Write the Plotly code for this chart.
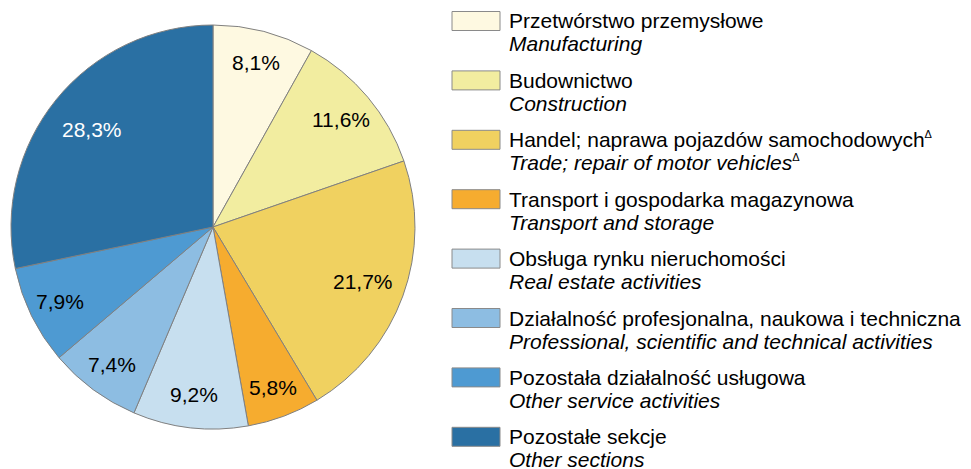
import numpy as np
import plotly.graph_objects as go

SUP = "<sup><span style='font-size:11px;font-style:normal'>Δ</span></sup>"
labels_pl = ["Przetwórstwo przemysłowe", "Budownictwo",
             "Handel; naprawa pojazdów samochodowych" + SUP,
             "Transport i gospodarka magazynowa", "Obsługa rynku nieruchomości",
             "Działalność profesjonalna, naukowa i techniczna",
             "Pozostała działalność usługowa", "Pozostałe sekcje"]
labels_en = ["Manufacturing", "Construction", "Trade; repair of motor vehicles" + SUP,
             "Transport and storage", "Real estate activities",
             "Professional, scientific and technical activities",
             "Other service activities", "Other sections"]
values = [8.1, 11.6, 21.7, 5.8, 9.2, 7.4, 7.9, 28.3]
colors = ["#FEF9E1", "#F2EDA0", "#F0D160", "#F6AC2F", "#C7DFEF", "#8DBDE2", "#4E9AD2", "#2A70A3"]
text_colors = ["black"] * 7 + ["white"]

texts = [f"{v:.1f}".replace(".", ",") + "%" for v in values]
FONT = "Liberation Sans, Arial, sans-serif"
# page has an 8px body margin; figure is sized so the page is 971x469
W, H = 963, 461
OFF = 8

# pie geometry (page pixels)
CX, CY, R = 213, 227, 202
fig = go.Figure(go.Pie(
    values=values, labels=[p.replace(SUP, "") for p in labels_en], textinfo="none",
    sort=False, direction="clockwise", rotation=0,
    marker=dict(colors=colors, line=dict(color="#808080", width=1)),
    domain=dict(x=[(CX - R - OFF) / W, (CX + R - OFF) / W],
                y=[1 - (CY + R - OFF) / H, 1 - (CY - R - OFF) / H]),
    showlegend=False, hoverinfo="label+percent",
))

shapes, annos = [], []
# slice labels along each slice's mid-angle; larger slices sit a bit closer to the centre
vals = np.array(values)
frac = vals / vals.sum()
mids = (np.cumsum(frac) - frac / 2) * 2 * np.pi
for t, ang, f, tc in zip(texts, mids, frac, text_colors):
    rr = (0.869 - 0.354 * f) * R
    px = CX + rr * np.sin(ang) - OFF
    py = CY - rr * np.cos(ang) - OFF
    annos.append(dict(xref="paper", yref="paper", x=px / W, y=1 - py / H,
                      xanchor="center", yanchor="middle", showarrow=False, text=t,
                      font=dict(family=FONT, size=21, color=tc)))

# legend
for i, (pl, en, c) in enumerate(zip(labels_pl, labels_en, colors)):
    yc = 21 + i * 59.4 - OFF
    shapes.append(dict(type="rect", xref="paper", yref="paper",
                       x0=(452 - OFF) / W, x1=(500 - OFF) / W,
                       y0=1 - (yc + 9.5) / H, y1=1 - (yc - 9.5) / H,
                       fillcolor=c, line=dict(color="#8a8a8a", width=1)))
    annos.append(dict(xref="paper", yref="paper", x=(507 - OFF) / W, y=1 - yc / H,
                      xanchor="left", yanchor="middle", showarrow=False, text=pl,
                      font=dict(family=FONT, size=21, color="black")))
    annos.append(dict(xref="paper", yref="paper", x=(507 - OFF) / W, y=1 - (yc + 23) / H,
                      xanchor="left", yanchor="middle", showarrow=False, text=f"<i>{en}</i>",
                      font=dict(family=FONT, size=21, color="black")))

fig.update_layout(width=W, height=H, margin=dict(l=0, r=0, t=0, b=0),
                  paper_bgcolor="white", plot_bgcolor="white",
                  shapes=shapes, annotations=annos, font=dict(family=FONT))
fig.write_html("out.html")
